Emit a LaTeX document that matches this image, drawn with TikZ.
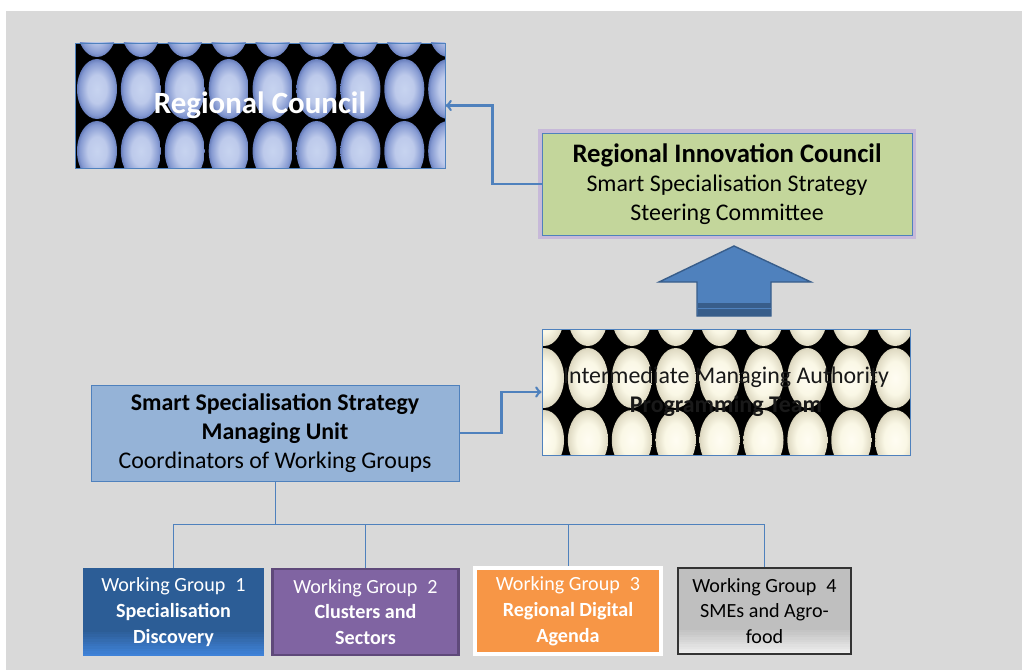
\documentclass[tikz,border=0pt]{standalone}
\usepackage{fontspec}
\setmainfont{Carlito}
\usepackage{tikz}
\usetikzlibrary{arrows,calc}
\usepackage{xcolor}
\definecolor{bggray}{HTML}{D9D9D9}
\definecolor{linkblue}{HTML}{4F81BD}
\definecolor{linkdark}{HTML}{385D8A}
\definecolor{ricgreen}{HTML}{C3D69B}
\definecolor{smublue}{HTML}{95B3D7}
\definecolor{wgnavy}{HTML}{2C5D96}
\definecolor{wgsky}{HTML}{3F82D8}
\definecolor{wgpurple}{HTML}{8064A2}
\definecolor{wgplum}{HTML}{5F497A}
\definecolor{wgorange}{HTML}{F79646}
\definecolor{wggray}{HTML}{BFBFBF}
\definecolor{wgpale}{HTML}{EEEEEE}
\definecolor{glowviolet}{HTML}{B9A0DA}
\pgfdeclareradialshading{blueegg}{\pgfpoint{0bp}{0bp}}{rgb(0bp)=(0.78,0.83,0.94); rgb(12bp)=(0.74,0.79,0.92); rgb(22bp)=(0.52,0.60,0.82); rgb(30bp)=(0.22,0.32,0.60); rgb(35bp)=(0.10,0.17,0.40); rgb(50bp)=(0.10,0.17,0.40)}
\pgfdeclareradialshading{creamegg}{\pgfpoint{0bp}{0bp}}{rgb(0bp)=(1,0.99,0.95); rgb(14bp)=(0.98,0.97,0.90); rgb(24bp)=(0.88,0.86,0.77); rgb(31bp)=(0.62,0.60,0.50); rgb(35.5bp)=(0.40,0.38,0.31); rgb(50bp)=(0.40,0.38,0.31)}
\tikzset{
 box/.style={draw=linkblue, line width=0.6pt, align=center, inner sep=0pt},
 flow/.style={draw=linkblue, line width=1.8pt, ->},
 tree/.style={draw=linkblue, line width=0.7pt},
 wgbox/.style={box, minimum height=2.2cm, text=white, font=\wgfont},
 lowfade/.style 2 args={path picture={
 \foreach \k [evaluate=\k as \p using int(\k*10)] in {0,...,9}
 \fill[#2!\p!#1] ($(path picture bounding box.south west)+(0,\k*0.06cm)$) rectangle ($(path picture bounding box.south east)+(0,\k*0.06cm+0.065cm)$);}}
}
\newcommand{\bigfont}{\fontsize{17}{20.5}\selectfont}
\newcommand{\wgfont}{\fontsize{14.3}{18.4}\selectfont}
\newcommand{\eggwall}[5]{
 \begin{scope}
 \clip #1 rectangle #2;
 \fill[black] #1 rectangle #2;
 \foreach \i in {0,...,#5} \foreach \j in {0,1,2}
 \shade[shading=#3] ($ #4 + (\i*43.9,\j*62) $) ellipse (0.5cm and 0.75cm);
 \end{scope}
}
\begin{document}
\begin{tikzpicture}[x=0.025cm, y=-0.025cm]
 \useasboundingbox (0,0) rectangle (1022,670);
 \fill[bggray] (6,11) rectangle (1022,670);
%
 \eggwall{(75,43)}{(445,168)}{blueegg}{(97,27)}{8}
 \eggwall{(542,329)}{(910,455)}{creamegg}{(544,316)}{8}
%
 \node[box, minimum width=9.25cm, minimum height=3.125cm, text=white, text depth=0.15cm, font=\fontsize{22}{26}\selectfont\bfseries] (rc) at (260,105.5) {Regional Council};
 \node[box, fill=ricgreen, minimum width=9.25cm, minimum height=2.55cm, font=\bigfont,
 preaction={draw=glowviolet, line width=5pt, opacity=0.55}] (ric) at (727,184)
 {{\fontsize{19}{22}\selectfont\bfseries Regional Innovation Council}\\Smart Specialisation Strategy\\Steering Committee};
 \node[box, minimum width=9.2cm, minimum height=3.15cm, font=\bigfont, text=black!90] (ima) at (726,392)
 {Intermediate Managing Authority\\\textbf{Programming Team}};
 \node[box, fill=smublue, minimum width=9.2cm, minimum height=2.4cm, font=\bigfont] (smu) at (275,433)
 {\textbf{Smart Specialisation Strategy}\\\textbf{Managing Unit}\\Coordinators of Working Groups};
%
 \node[wgbox, fill=wgnavy, draw=none, minimum width=4.525cm, lowfade={wgsky}{wgnavy}]
 (wg1) at (173.5,612) {Working Group\enspace 1\\\textbf{Specialisation}\\\textbf{Discovery}};
 \node[wgbox, fill=wgpurple, draw=wgplum, line width=2pt, minimum width=4.65cm, minimum height=2.15cm]
 (wg2) at (365.5,612) {Working Group\enspace 2\\\textbf{Clusters and}\\\textbf{Sectors}};
 \node[wgbox, fill=wgorange, draw=white, line width=2.5pt, minimum width=4.65cm, minimum height=2.15cm]
 (wg3) at (568,611) {Working Group\enspace 3\\\textbf{Regional Digital}\\\textbf{Agenda}};
 \node[wgbox, fill=wggray, draw=black!80, line width=0.8pt, text=black, minimum width=4.325cm, minimum height=2.15cm, lowfade={wgpale}{wggray}]
 (wg4) at (764.5,611) {Working Group\enspace 4\\SMEs and Agro-\\food};
%
 \draw[flow] (ric.west) -- ++(-49,0) |- (rc.east);
 \draw[flow] (smu.east) -- ++(42,0) |- (ima.west);
 \foreach \g in {wg1,wg2,wg3,wg4}
 \draw[tree] (smu.south) -- ++(0,43) -| (\g.north);
%
 \filldraw[fill=linkblue, draw=linkdark, line width=1pt] (734,246) -- (811,282) -- (771,282) -- (771,316) -- (697,316) -- (697,282) -- (659,282) -- cycle;
 \fill[linkdark] (697.5,303) rectangle (770.5,315.5);
 \draw[linkblue, line width=0.6pt] (697.5,308) -- (770.5,308);
\end{tikzpicture}
\end{document}
